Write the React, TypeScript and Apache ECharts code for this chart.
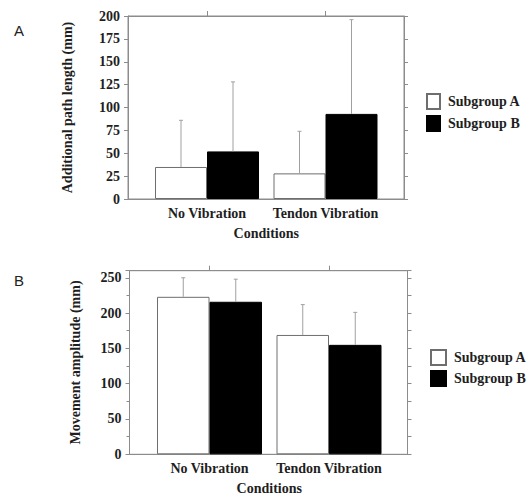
import React, { useEffect, useRef } from "react";
import * as echarts from "echarts";

const categories = ["No Vibration", "Tendon Vibration"];
const seriesNames = ["Subgroup A", "Subgroup B"];
// Panel A: additional path length (mm)
const pathMeanA = [35, 28];
const pathSdA = [51, 46];
const pathMeanB = [52, 93];
const pathSdB = [76, 103];
// Panel B: movement amplitude (mm)
const ampMeanA = [223, 169];
const ampSdA = [27, 43];
const ampMeanB = [216, 155];
const ampSdB = [32, 46];

const FONT = "'Liberation Serif', 'Times New Roman', serif";
const TXT = "#1e1e1e";
const AX = "#8c8c8c";

export default function App() {
  const ref = useRef<HTMLDivElement>(null);
  useEffect(() => {
    if (!ref.current) return;
    const chart = echarts.init(ref.current, null, { renderer: "svg" });

    const txt = { fontFamily: FONT, fontSize: 14, fontWeight: "bold" as const, color: TXT };
    const axLine = { show: true, onZero: false, lineStyle: { color: AX, width: 1 } };

    const frameX = (grid: number, pos: "top" | "bottom") => ({
      type: "value", gridIndex: grid, position: pos, min: 0, max: 1,
      axisLine: axLine, axisTick: { show: false }, axisLabel: { show: false }, splitLine: { show: false },
    });
    const catX = (grid: number, pos: "top" | "bottom", labels: boolean) => ({
      type: "category", gridIndex: grid, position: pos, data: categories,
      axisLine: { show: false },
      axisTick: { show: !labels, alignWithLabel: true, length: 5, lineStyle: { color: AX } },
      axisLabel: { show: labels, interval: 0, margin: 7, ...txt },
      ...(labels ? { name: "Conditions", nameLocation: "middle", nameGap: 27, nameTextStyle: txt } : {}),
    });

    const errBar = (barW: number, sign: number) => (params: any, api: any) => {
      const idx = api.value(0);
      const mean = api.value(1);
      const sd = api.value(2);
      const p0 = api.coord([idx, mean]);
      const p1 = api.coord([idx, mean + sd]);
      const x = p0[0] + (sign * barW) / 2;
      const style = { stroke: "#a0a0a0", lineWidth: 1 };
      return {
        type: "group",
        children: [
          { type: "line", shape: { x1: x, y1: p0[1], x2: x, y2: p1[1] }, style },
          { type: "line", shape: { x1: x - 2, y1: p1[1], x2: x + 2, y2: p1[1] }, style },
        ],
      };
    };
    const errData = (mean: number[], sd: number[]) => mean.map((m, i) => [i, m, sd[i]]);

    const whiteStyle = { color: "#ffffff", borderColor: "#6e6e6e", borderWidth: 1 };
    const blackStyle = { color: "#000000", borderColor: "#000000", borderWidth: 1 };

    const legend = (left: number, top: number, w: number, h: number, gap: number) => ({
      orient: "vertical", left, top, itemWidth: w, itemHeight: h, itemGap: gap,
      icon: "rect", selectedMode: false, data: seriesNames,
      textStyle: { ...txt, padding: [0, 0, 0, 3] },
    });

    const frameGrid = (left: number, top: number, width: number, height: number) => ({
      left, top, width, height, show: true, borderColor: AX, borderWidth: 1, backgroundColor: "transparent",
    });

    chart.setOption({
      animation: false,
      backgroundColor: "#ffffff",
      grid: [
        frameGrid(128, 16, 276, 183),
        { left: 147.75, top: 16, width: 237, height: 183 },
        frameGrid(129.5, 270.7, 278, 183.6),
        { left: 149.75, top: 270.7, width: 239, height: 183.6 },
      ],
      xAxis: [
        frameX(0, "bottom"), frameX(0, "top"), catX(1, "bottom", true), catX(1, "top", false),
        frameX(2, "bottom"), frameX(2, "top"), catX(3, "bottom", true), catX(3, "top", false),
      ],
      yAxis: [
        {
          type: "value", gridIndex: 0, position: "left", min: 0, max: 200, interval: 25,
          axisLine: axLine, axisTick: { show: true, length: 4, lineStyle: { color: AX } },
          axisLabel: { margin: 8, ...txt }, splitLine: { show: false },
          name: "Additional path length (mm)", nameLocation: "middle", nameGap: 54, nameRotate: 90,
          nameTextStyle: txt,
        },
        {
          type: "value", gridIndex: 0, position: "right", min: 0, max: 200, interval: 25,
          axisLine: axLine, axisTick: { show: true, length: 4, lineStyle: { color: AX } },
          axisLabel: { show: false }, splitLine: { show: false },
        },
        { type: "value", gridIndex: 1, min: 0, max: 200, show: false },
        {
          type: "value", gridIndex: 2, position: "left", min: 0, max: 260, interval: 50,
          axisLine: axLine, axisTick: { show: true, length: 4, lineStyle: { color: AX } },
          minorTick: { show: true, splitNumber: 2, length: 3, lineStyle: { color: AX } },
          axisLabel: { margin: 8, showMaxLabel: false, ...txt }, splitLine: { show: false },
          name: "Movement amplitude (mm)", nameLocation: "middle", nameGap: 47, nameRotate: 90,
          nameTextStyle: txt,
        },
        {
          type: "value", gridIndex: 2, position: "right", min: 0, max: 260, interval: 25,
          axisLine: axLine, axisTick: { show: true, length: 4, lineStyle: { color: AX } },
          axisLabel: { show: false }, splitLine: { show: false },
        },
        { type: "value", gridIndex: 3, min: 0, max: 260, show: false },
      ],
      legend: [legend(421, 88, 13, 15, 5), legend(425, 344, 15, 15, 4)],
      series: [
        { type: "bar", name: seriesNames[0], xAxisIndex: 2, yAxisIndex: 2, data: pathMeanA, barWidth: 52, barGap: "0%", itemStyle: whiteStyle },
        { type: "bar", name: seriesNames[1], xAxisIndex: 2, yAxisIndex: 2, data: pathMeanB, barWidth: 52, barGap: "0%", itemStyle: blackStyle },
        { type: "custom", name: "errA1", xAxisIndex: 2, yAxisIndex: 2, data: errData(pathMeanA, pathSdA), renderItem: errBar(52, -1), z: 5 },
        { type: "custom", name: "errB1", xAxisIndex: 2, yAxisIndex: 2, data: errData(pathMeanB, pathSdB), renderItem: errBar(52, 1), z: 5 },
        { type: "bar", name: seriesNames[0], xAxisIndex: 6, yAxisIndex: 5, data: ampMeanA, barWidth: 52.5, barGap: "0%", itemStyle: whiteStyle },
        { type: "bar", name: seriesNames[1], xAxisIndex: 6, yAxisIndex: 5, data: ampMeanB, barWidth: 52.5, barGap: "0%", itemStyle: blackStyle },
        { type: "custom", name: "errA2", xAxisIndex: 6, yAxisIndex: 5, data: errData(ampMeanA, ampSdA), renderItem: errBar(52.5, -1), z: 5 },
        { type: "custom", name: "errB2", xAxisIndex: 6, yAxisIndex: 5, data: errData(ampMeanB, ampSdB), renderItem: errBar(52.5, 1), z: 5 },
      ],
      graphic: [
        { type: "text", left: 14, top: 23, style: { text: "A", fontFamily: "'Liberation Sans', Arial, sans-serif", fontSize: 15, fontWeight: 500, fill: "#222" } },
        { type: "text", left: 14, top: 273, style: { text: "B", fontFamily: "'Liberation Sans', Arial, sans-serif", fontSize: 15, fontWeight: 500, fill: "#222" } },
      ],
    });
    return () => chart.dispose();
  }, []);
  return <div ref={ref} style={{ position: "fixed", left: 0, top: 0, width: 529, height: 497 }} />;
}
